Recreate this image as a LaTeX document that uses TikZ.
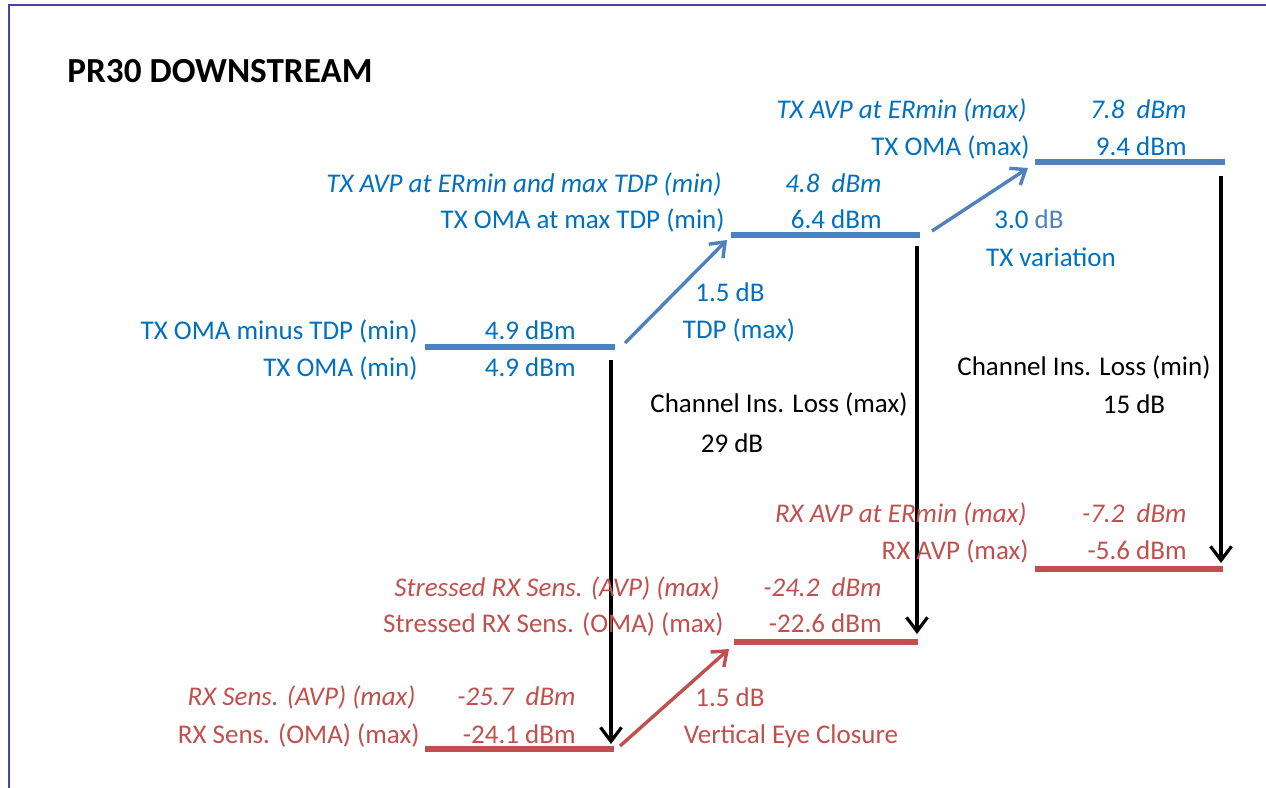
\documentclass[tikz,border=0pt]{standalone}
\usepackage{fontspec}
\setmainfont{Carlito}
\usetikzlibrary{arrows.meta}
\definecolor{txblue}{HTML}{0070C0}
\definecolor{barblue}{HTML}{4F81BD}
\definecolor{rxred}{HTML}{C0504D}
\definecolor{framecol}{HTML}{4646A6}
\newcommand{\bodysize}{\fontsize{13.5}{16}\selectfont}

\begin{document}
\begin{tikzpicture}[x=0.5pt, y=-0.5pt,
    every node/.style={inner sep=0pt, font=\bodysize},
    tx/.style={text=txblue},
    txi/.style={text=txblue, font=\bodysize\itshape},
    rx/.style={text=rxred},
    rxi/.style={text=rxred, font=\bodysize\itshape},
    level/.style={line width=3pt},
    rise/.style={line width=1.7pt, -{Straight Barb[length=6.5pt,width=10pt]}},
    loss/.style={line width=1.6pt, black, -{Straight Barb[length=7pt,width=10.5pt]}}]
            \useasboundingbox (0,0) rectangle (1266,788);
            \draw[framecol, line width=1pt] (9,800) -- (9,5) -- (1280,5);

            \node[anchor=base west, font=\fontsize{17.6}{21}\selectfont\bfseries] (title) at (67,82) {PR30 DOWNSTREAM};

            % levels
            \coordinate (T1L) at (425,347);
            \coordinate (T1R) at (615,347);
            \coordinate (T2L) at (731,235);
            \coordinate (T2R) at (920,235);
            \coordinate (T3L) at (1035,162);
            \coordinate (T3R) at (1225,162);
            \coordinate (R1L) at (425,749);
            \coordinate (R1R) at (614,749);
            \coordinate (R2L) at (734,642);
            \coordinate (R2R) at (918,642);
            \coordinate (R3L) at (1035,569);
            \coordinate (R3R) at (1223,569);
            \draw[level, barblue] (T1L) -- (T1R);
            \draw[level, barblue] (T2L) -- (T2R);
            \draw[level, barblue] (T3L) -- (T3R);
            \draw[level, rxred] (R1L) -- (R1R);
            \draw[level, rxred] (R2L) -- (R2R);
            \draw[level, rxred] (R3L) -- (R3R);

            % arrow ends
            \coordinate (U1) at (625,343);
            \coordinate (V1) at (727,240);
            \coordinate (U2) at (932,231);
            \coordinate (V2) at (1028,168);
            \coordinate (U3) at (620,746);
            \coordinate (V3) at (729,649);
            \coordinate (D1) at (611,360);
            \coordinate (E1) at (611,744);
            \coordinate (D2) at (917,246);
            \coordinate (E2) at (917,634);
            \coordinate (D3) at (1221,176);
            \coordinate (E3) at (1221,563);
            \draw[rise, barblue] (U1) -- (V1);
            \draw[rise, barblue] (U2) -- (V2);
            \draw[rise, rxred] (U3) -- (V3);
            \draw[loss] (D1) -- (E1);
            \draw[loss] (D2) -- (E2);
            \draw[loss] (D3) -- (E3);

            % TX side
            \node[tx, anchor=base east] (omamtdp) at (418,339) {TX OMA minus TDP (min)};
            \node[tx, anchor=base east] (omamin) at (418,376) {TX OMA (min)};
            \node[tx, anchor=base east] (valA) at (576,339) {4.9 dBm};
            \node[tx, anchor=base east] (valB) at (576,376) {4.9 dBm};
            \node[txi, anchor=base east] (avptdp) at (722,192) {TX AVP at ERmin and max TDP (min)};
            \node[tx, anchor=base east] (omatdp) at (725,228) {TX OMA at max TDP (min)};
            \node[txi, anchor=base east] (valC) at (882,192) {4.8\ \ dBm};
            \node[tx, anchor=base east] (valD) at (882,228) {6.4 dBm};
            \node[txi, anchor=base east] (avpmax) at (1027,118) {TX AVP at ERmin (max)};
            \node[tx, anchor=base east] (omamax) at (1030,155) {TX OMA (max)};
            \node[txi, anchor=base east] (valE) at (1187,118) {7.8\ \ dBm};
            \node[tx, anchor=base east] (valF) at (1187,155) {9.4 dBm};
            \node[tx, anchor=base] (tdpdb) at (730,301) {1.5 dB};
            \node[tx, anchor=base] (tdpmax) at (739,338) {TDP (max)};
            \node[tx, anchor=base] (vardb) at (1029,228) {3.0 \textcolor{barblue}{dB}};
            \node[tx, anchor=base] (txvar) at (1051,266) {TX variation};

            % channel
            \node[anchor=base] (chmax) at (779,412) {Channel Ins. Loss (max)};
            \node[anchor=base] (chmaxdb) at (732,452) {29 dB};
            \node[anchor=base] (chmin) at (1084,375) {Channel Ins. Loss (min)};
            \node[anchor=base] (chmindb) at (1134,413) {15 dB};

            % RX side
            \node[rxi, anchor=base east] (rxavpmax) at (1027,522) {RX AVP at ERmin (max)};
            \node[rx, anchor=base east] (rxavp) at (1029,559) {RX AVP (max)};
            \node[rxi, anchor=base east] (valG) at (1187,522) {-7.2\ \ dBm};
            \node[rx, anchor=base east] (valH) at (1187,559) {-5.6 dBm};
            \node[rxi, anchor=base east] (srsavp) at (720,596) {Stressed RX Sens. (AVP) (max)};
            \node[rx, anchor=base east] (srsoma) at (724,632) {Stressed RX Sens. (OMA) (max)};
            \node[rxi, anchor=base east] (valI) at (882,596) {-24.2\ \ dBm};
            \node[rx, anchor=base east] (valJ) at (882,632) {-22.6 dBm};
            \node[rxi, anchor=base east] (rsavp) at (416,705) {RX Sens. (AVP) (max)};
            \node[rx, anchor=base east] (rsoma) at (420,743) {RX Sens. (OMA) (max)};
            \node[rxi, anchor=base east] (valK) at (576,705) {-25.7\ \ dBm};
            \node[rx, anchor=base east] (valL) at (576,743) {-24.1 dBm};
            \node[rx, anchor=base] (vecdb) at (730,706) {1.5 dB};
            \node[rx, anchor=base] (vec) at (791,743) {Vertical Eye Closure};
        \end{tikzpicture}
\end{document}
